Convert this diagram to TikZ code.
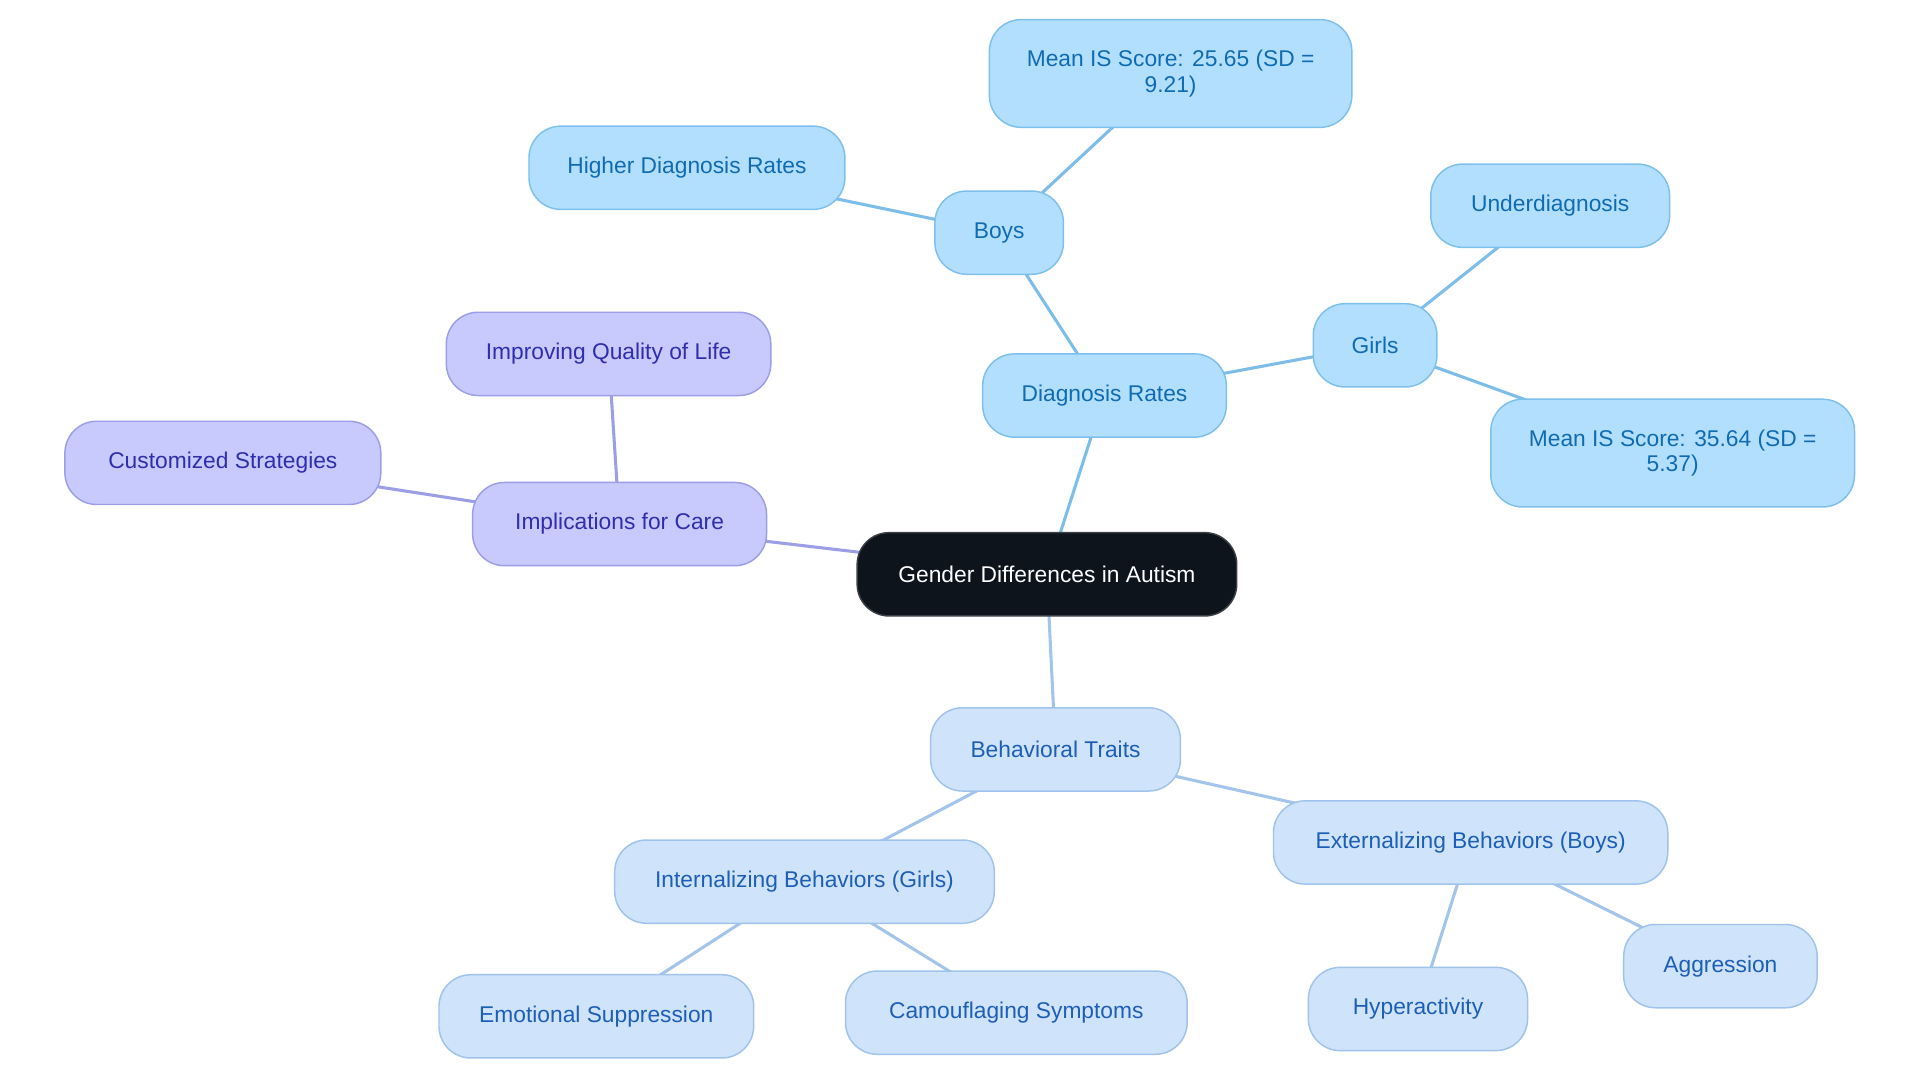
\documentclass[tikz,border=0pt]{standalone}
\usepackage{fontspec}
\setmainfont{Liberation Sans}
\usetikzlibrary{backgrounds}

\definecolor{rootfill}{HTML}{0D141C}
\definecolor{rootdraw}{HTML}{3A4046}
\definecolor{diagfill}{HTML}{B3DFFE}
\definecolor{diagdraw}{HTML}{7EC0EC}
\definecolor{diagtext}{HTML}{0F6CB3}
\definecolor{diagline}{HTML}{7DBDE9}
\definecolor{traitfill}{HTML}{CFE4FB}
\definecolor{traitdraw}{HTML}{A0C3EC}
\definecolor{traittext}{HTML}{1D5FB6}
\definecolor{traitline}{HTML}{A3C4EB}
\definecolor{carefill}{HTML}{C8C9FD}
\definecolor{caredraw}{HTML}{9C9EE8}
\definecolor{caretext}{HTML}{2F2FAE}
\definecolor{careline}{HTML}{9C9EE6}

\begin{document}
\begin{tikzpicture}[x=1pt,y=-1pt,
  topic/.style={rectangle, rounded corners=26pt, line width=1.2pt, align=center,
    minimum height=68pt, inner sep=0pt, font=\fontsize{18.6}{21}\selectfont},
  root/.style={topic, fill=rootfill, draw=rootdraw, text=white},
  diag/.style={topic, fill=diagfill, draw=diagdraw, text=diagtext},
  trait/.style={topic, fill=traitfill, draw=traitdraw, text=traittext},
  care/.style={topic, fill=carefill, draw=caredraw, text=caretext},
  link/.style={line width=2.5pt}]

  \useasboundingbox (0,0) rectangle (1568,884.4);

  \node[root, minimum width=310pt] (gender) at (855,469) {Gender Differences in Autism};

  \node[diag, minimum width=199pt] (diag_rates) at (902,323) {Diagnosis Rates};
  \node[diag, minimum width=105pt] (boys) at (816,190) {Boys};
  \node[diag, minimum width=296pt, minimum height=88pt] (boys_mean) at (956,60) {Mean IS Score: 25.65 (SD =\\9.21)};
  \node[diag, minimum width=258pt] (boys_higher) at (561,137) {Higher Diagnosis Rates};
  \node[diag, minimum width=101pt] (girls) at (1123,282) {Girls};
  \node[diag, minimum width=195pt] (girls_under) at (1266,168) {Underdiagnosis};
  \node[diag, minimum width=297pt, minimum height=88pt] (girls_mean) at (1366,370) {Mean IS Score: 35.64 (SD =\\5.37)};

  \node[care, minimum width=240pt] (care) at (506,428) {Implications for Care};
  \node[care, minimum width=265pt] (care_life) at (497,289) {Improving Quality of Life};
  \node[care, minimum width=258pt] (care_custom) at (182,378) {Customized Strategies};

  \node[trait, minimum width=204pt] (traits) at (862,612) {Behavioral Traits};
  \node[trait, minimum width=310pt] (traits_int) at (657,720) {Internalizing Behaviors (Girls)};
  \node[trait, minimum width=322pt] (traits_ext) at (1201,688) {Externalizing Behaviors (Boys)};
  \node[trait, minimum width=257pt] (int_emotion) at (487,830) {Emotional Suppression};
  \node[trait, minimum width=279pt] (int_camo) at (830,827) {Camouflaging Symptoms};
  \node[trait, minimum width=179pt] (ext_hyper) at (1158,824) {Hyperactivity};
  \node[trait, minimum width=158pt] (ext_aggr) at (1405,789) {Aggression};

  \begin{scope}[on background layer]
    \fill[white] (0,0) rectangle (1568,884.4);
    % diagnosis branch
    \draw[link, diagline] (gender.center) -- (diag_rates.center);
    \draw[link, diagline] (diag_rates.center) -- (boys.center);
    \draw[link, diagline] (boys.center) -- (boys_mean.center);
    \draw[link, diagline] (boys.center) -- (boys_higher.center);
    \draw[link, diagline] (diag_rates.center) -- (girls.center);
    \draw[link, diagline] (girls.center) -- (girls_under.center);
    \draw[link, diagline] (girls.center) -- (girls_mean.center);
    % care branch
    \draw[link, careline] (gender.center) -- (care.center);
    \draw[link, careline] (care.center) -- (care_life.center);
    \draw[link, careline] (care.center) -- (care_custom.center);
    % traits branch
    \draw[link, traitline] (gender.center) -- (traits.center);
    \draw[link, traitline] (traits.center) -- (traits_int.center);
    \draw[link, traitline] (traits.center) -- (traits_ext.center);
    \draw[link, traitline] (traits_int.center) -- (int_emotion.center);
    \draw[link, traitline] (traits_int.center) -- (int_camo.center);
    \draw[link, traitline] (traits_ext.center) -- (ext_hyper.center);
    \draw[link, traitline] (traits_ext.center) -- (ext_aggr.center);
  \end{scope}

\end{tikzpicture}
\end{document}
